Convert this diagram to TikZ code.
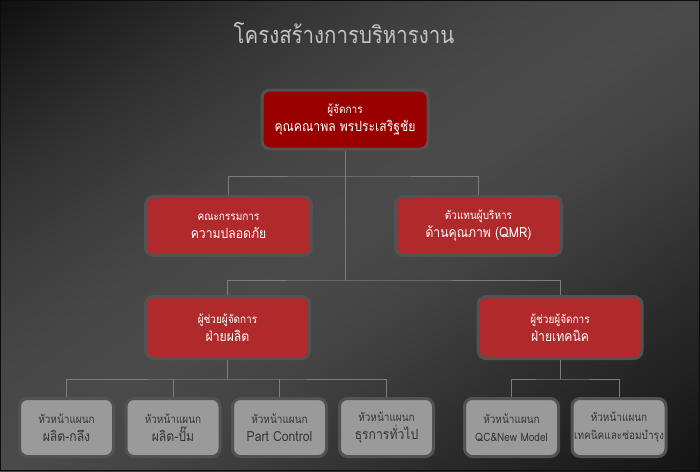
\documentclass[tikz,border=0pt]{standalone}
\usepackage{fontspec}
\setmainfont[Script=Thai,FakeStretch=0.87]{Loma}
\usepackage{xcolor}
\definecolor{bgframe}{RGB}{12,12,12}
\definecolor{darkred}{RGB}{153,0,0}
\definecolor{boxred}{RGB}{176,41,43}
\definecolor{halogray}{RGB}{82,82,82}
\definecolor{boxgray}{RGB}{154,154,154}
\definecolor{linegray}{RGB}{125,125,125}
\definecolor{titlegray}{RGB}{196,196,196}
\definecolor{textgray}{RGB}{52,52,52}
\pgfdeclareverticalshading{bgshade}{100bp}{rgb(0bp)=(0.0745,0.0745,0.0745);
    rgb(25bp)=(0.0745,0.0745,0.0745); rgb(30bp)=(0.1216,0.1216,0.1216);
    rgb(35bp)=(0.1686,0.1686,0.1686); rgb(40bp)=(0.2196,0.2196,0.2196);
    rgb(45bp)=(0.2667,0.2667,0.2667); rgb(50bp)=(0.2902,0.2902,0.2902);
    rgb(55bp)=(0.2784,0.2784,0.2784); rgb(60bp)=(0.2431,0.2431,0.2431);
    rgb(65bp)=(0.1961,0.1961,0.1961); rgb(70bp)=(0.1333,0.1333,0.1333);
    rgb(75bp)=(0.0588,0.0588,0.0588); rgb(100bp)=(0.0588,0.0588,0.0588)}
\newcommand{\smallline}[1]{{\fontsize{11.5}{18}\selectfont #1}}

\begin{document}
\begin{tikzpicture}[x=1pt,y=-1pt,
    box/.style={rounded corners=8pt,draw=halogray,line width=3pt,inner sep=0pt,
        minimum width=166pt,minimum height=59pt,align=center,text=white,
        font=\fontsize{14}{18}\selectfont},
    topbox/.style={box,fill=darkred},
    redbox/.style={box,fill=boxred},
    graybox/.style={box,fill=boxgray,text=textgray,minimum width=94pt,minimum height=58pt},
    link/.style={draw=linegray,line width=0.8pt}]
        % background
        \begin{scope}
            \clip (0,0) rectangle (700,471);
            \shade[shading=bgshade,transform canvas={rotate around={33.94:(350,235.5)}}]
                (-100,-156.5) rectangle (800,627.5);
        \end{scope}
        \draw[bgframe,line width=1pt] (0.5,0.5) rectangle (699.5,470.5);
        \useasboundingbox (0,0) rectangle (700,471);

        \node[text=titlegray,font=\fontsize{23.5}{28}\selectfont] (title) at (344,33) {โครงสร้างการบริหารงาน};

        % manager
        \node[topbox] (gm) at (345,119.5) {\smallline{ผู้จัดการ}\\คุณคณาพล พรประเสริฐชัย};

        % second row
        \node[redbox] (safety) at (228.5,226) {\smallline{คณะกรรมการ}\\ความปลอดภัย};
        \node[redbox] (qmr) at (478.5,226) {\smallline{ตัวแทนผู้บริหาร}\\ด้านคุณภาพ (QMR)};

        % assistant managers
        \node[redbox,minimum width=164pt,minimum height=62pt] (prod) at (227.5,327.5) {\smallline{ผู้ช่วยผู้จัดการ}\\ฝ่ายผลิต};
        \node[redbox,minimum width=164pt,minimum height=62pt] (tech) at (560,327.5) {\smallline{ผู้ช่วยผู้จัดการ}\\ฝ่ายเทคนิค};

        % department heads
        \node[graybox] (turn) at (66.5,427.5) {\smallline{หัวหน้าแผนก}\\ผลิต-กลึง};
        \node[graybox] (press) at (173,427.5) {\smallline{หัวหน้าแผนก}\\ผลิต-ปั๊ม};
        \node[graybox] (part) at (279.5,427.5) {\smallline{หัวหน้าแผนก}\\Part Control};
        \node[graybox] (admin) at (386.5,427.5) {\smallline{หัวหน้าแผนก}\\ธุรการทั่วไป};
        \node[graybox] (qc) at (511.5,427.5) {\smallline{หัวหน้าแผนก}\\{\fontsize{11.5}{18}\selectfont QC\&New Model}};
        \node[graybox] (maint) at (619,427.5) {\smallline{หัวหน้าแผนก}\\{\fontsize{11.5}{18}\selectfont เทคนิคและซ่อมบำรุง}};

        % connectors
        \coordinate (bus1) at (345,176);
        \coordinate (bus2) at (345,280);
        \coordinate (bus3) at (227.5,379);
        \coordinate (bus4) at (560,379);
        \draw[link] (gm.south) -- (bus2);
        \draw[link] (safety.north) |- (bus1) -| (qmr.north);
        \draw[link] (prod.north) |- (bus2) -| (tech.north);
        \draw[link] (prod.south) -- (bus3);
        \draw[link] (turn.north) |- (bus3) -| (admin.north);
        \draw[link] (press.north) -- (press.north |- bus3);
        \draw[link] (part.north) -- (part.north |- bus3);
        \draw[link] (tech.south) -- (bus4);
        \draw[link] (qc.north) |- (bus4) -| (maint.north);
\end{tikzpicture}
\end{document}
